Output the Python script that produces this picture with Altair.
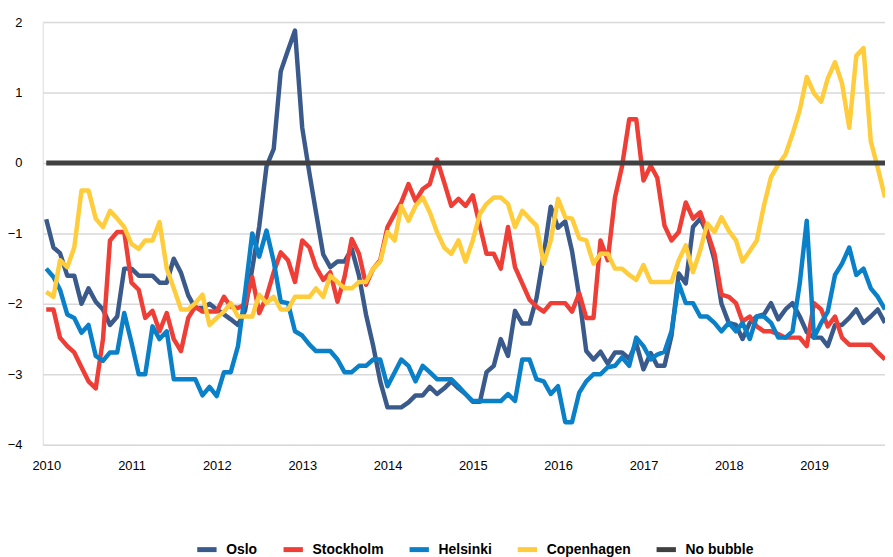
import altair as alt
import pandas as pd

# Monthly series, Jan 2010 .. Nov 2019 (119 months)
start_month = "2010-01-01"
n_months = 119

oslo = [-0.8, -1.2, -1.28, -1.6, -1.6, -2.0, -1.78, -1.97, -2.08, -2.3, -2.18, -1.5,
        -1.5, -1.6, -1.6, -1.6, -1.7, -1.7, -1.36, -1.56, -1.88, -2.06, -2.06, -2.0,
        -2.08, -2.15, -2.22, -2.3, -2.1, -1.5, -0.9, -0.05, 0.2, 1.3, 1.6, 1.88,
        0.5, -0.15, -0.7, -1.3, -1.48, -1.4, -1.4, -1.22, -1.6, -2.15, -2.6, -3.1,
        -3.47, -3.47, -3.47, -3.4, -3.3, -3.3, -3.18, -3.28, -3.2, -3.1, -3.2, -3.28,
        -3.39, -3.39, -2.97, -2.88, -2.5, -2.74, -2.1, -2.28, -2.28, -1.92, -1.3, -0.62,
        -0.92, -0.83, -1.25, -1.9, -2.67, -2.79, -2.68, -2.85, -2.69, -2.69, -2.78, -2.56,
        -2.93, -2.7, -2.88, -2.88, -2.45, -1.57, -1.71, -0.91, -0.79, -1.0, -1.38, -2.0,
        -2.27, -2.3, -2.5, -2.27, -2.18, -2.15, -1.99, -2.22, -2.08, -1.99, -2.18, -2.4,
        -2.48, -2.48, -2.6, -2.3, -2.3, -2.2, -2.08, -2.27, -2.18, -2.08, -2.27]

stockholm = [-2.08, -2.08, -2.48, -2.6, -2.69, -2.9, -3.1, -3.2, -2.5, -1.1, -0.98, -0.98,
             -1.7, -1.8, -2.2, -2.1, -2.39, -2.13, -2.5, -2.67, -2.2, -2.04, -2.11, -2.11,
             -2.11, -1.9, -2.04, -2.06, -2.01, -1.62, -2.13, -1.9, -1.55, -1.27, -1.38, -1.69,
             -1.1, -1.2, -1.48, -1.66, -1.55, -1.97, -1.62, -1.08, -1.29, -1.73, -1.5, -1.38,
             -0.91, -0.72, -0.56, -0.3, -0.54, -0.37, -0.3, 0.05, -0.28, -0.61, -0.51, -0.61,
             -0.46, -0.9, -1.29, -1.29, -1.5, -0.91, -1.48, -1.71, -1.94, -2.04, -2.11, -1.99,
             -1.99, -1.99, -2.11, -1.85, -2.2, -2.2, -1.1, -1.38, -0.49, -0.05, 0.62, 0.62,
             -0.25, -0.04, -0.21, -0.89, -1.1, -0.98, -0.56, -0.79, -0.7, -0.98, -1.29, -1.87,
             -1.9, -1.99, -2.25, -2.18, -2.32, -2.39, -2.39, -2.43, -2.48, -2.48, -2.48, -2.6,
             -1.99, -2.08, -2.32, -2.18, -2.48, -2.58, -2.58, -2.58, -2.58, -2.69, -2.79]

helsinki = [-1.5, -1.62, -1.8, -2.15, -2.2, -2.41, -2.3, -2.74, -2.81, -2.69, -2.69, -2.13,
            -2.55, -3.0, -3.0, -2.32, -2.5, -2.39, -3.07, -3.07, -3.07, -3.07, -3.3, -3.18,
            -3.31, -2.97, -2.97, -2.6, -1.85, -1.0, -1.33, -0.96, -1.4, -1.97, -1.99, -2.39,
            -2.45, -2.58, -2.67, -2.67, -2.67, -2.79, -2.97, -2.97, -2.88, -2.88, -2.79, -2.79,
            -3.17, -2.97, -2.79, -2.88, -3.1, -2.88, -2.97, -3.07, -3.07, -3.07, -3.17, -3.28,
            -3.38, -3.38, -3.38, -3.38, -3.38, -3.28, -3.38, -2.79, -2.79, -3.07, -3.1, -3.28,
            -3.17, -3.68, -3.68, -3.26, -3.1, -3.0, -3.0, -2.9, -2.88, -2.76, -2.88, -2.48,
            -2.6, -2.79, -2.72, -2.68, -2.39, -1.71, -1.99, -1.99, -2.18, -2.18, -2.27, -2.39,
            -2.27, -2.39, -2.27, -2.5, -2.18, -2.18, -2.27, -2.48, -2.48, -2.39, -1.71, -0.82,
            -2.48, -2.27, -2.11, -1.59, -1.43, -1.2, -1.59, -1.5, -1.78, -1.9, -2.08]

copenhagen = [-1.83, -1.9, -1.38, -1.48, -1.2, -0.39, -0.39, -0.79, -0.91, -0.68, -0.79, -0.91,
              -1.15, -1.22, -1.1, -1.1, -0.84, -1.5, -1.78, -2.08, -2.08, -1.99, -1.87, -2.3,
              -2.2, -2.11, -1.99, -2.18, -2.18, -2.18, -1.87, -1.99, -1.9, -2.08, -2.08, -1.9,
              -1.9, -1.9, -1.78, -1.9, -1.6, -1.69, -1.78, -1.78, -1.69, -1.69, -1.5, -1.4,
              -0.98, -1.1, -0.61, -0.82, -0.61, -0.49, -0.7, -0.98, -1.2, -1.29, -1.1, -1.4,
              -1.1, -0.72, -0.58, -0.49, -0.49, -0.58, -0.91, -0.68, -0.79, -0.89, -1.43, -1.1,
              -0.51, -0.77, -0.79, -1.07, -1.1, -1.43, -1.29, -1.29, -1.5, -1.5, -1.59, -1.66,
              -1.45, -1.69, -1.69, -1.69, -1.69, -1.38, -1.17, -1.55, -1.24, -0.86, -0.98, -0.77,
              -0.96, -1.1, -1.4, -1.25, -1.1, -0.6, -0.2, -0.02, 0.12, 0.41, 0.75, 1.22,
              0.99, 0.87, 1.2, 1.43, 1.13, 0.5, 1.52, 1.63, 0.31, -0.07, -0.49]

no_bubble = [0.0] * n_months

series_names = ["Oslo", "Stockholm", "Helsinki", "Copenhagen", "No bubble"]
series_colors = ["#3A5A8C", "#EE3E36", "#0A80C8", "#FFCC3C", "#404040"]
series_widths = [4.5, 4.5, 4.5, 4.5, 5]
year_ticks = list(range(2010, 2020))
y_ticks = [-4, -3, -2, -1, 0, 1, 2]

dates = pd.date_range(start_month, periods=n_months, freq="MS")
all_values = [oslo, stockholm, helsinki, copenhagen, no_bubble]
rows = []
for name, vals in zip(series_names, all_values):
    for d, v in zip(dates, vals):
        rows.append({"date": d.strftime("%Y-%m-%dT00:00:00"), "value": v, "series": name})
df = pd.DataFrame(rows)

color_scale = alt.Scale(domain=series_names, range=series_colors)

x_enc = alt.X(
    "date:T",
    title=None,
    scale=alt.Scale(domain=[alt.DateTime(year=2009, month=12, date=17),
                            alt.DateTime(year=2019, month=11, date=1)]),
    axis=alt.Axis(
        values=[alt.DateTime(year=y, month=1, date=1) for y in year_ticks],
        format="%Y",
        grid=False,
        domain=False,
        ticks=False,
        tickSize=0,
        labelPadding=15,
        labelFontSize=13,
        labelFont="Liberation Sans",
        labelColor="#000000",
        labelAlign="center",
    ),
)
y_enc = alt.Y(
    "value:Q",
    title=None,
    scale=alt.Scale(domain=[-4, 2], nice=False, zero=False),
    axis=alt.Axis(
        values=y_ticks,
        format="d",
        grid=True,
        gridColor="#D9D9D9",
        gridWidth=1.5,
        domain=False,
        ticks=False,
        tickSize=0,
        labelPadding=21,
        labelFontSize=13,
        labelFont="Liberation Sans",
        labelColor="#000000",
    ),
)

legend = alt.Legend(
    orient="none",
    direction="horizontal",
    legendX=153,
    legendY=519,
    symbolType="stroke",
    symbolSize=380,
    symbolStrokeWidth=5,
    labelFontSize=14,
    labelFontWeight="bold",
    labelFont="Liberation Sans",
    labelColor="#000000",
    labelOffset=7,
    columnPadding=15,
    padding=0,
)

layers = []
for name, w in zip(series_names, series_widths):
    layer = (
        alt.Chart(df)
        .transform_filter(alt.datum.series == name)
        .mark_line(strokeWidth=w, strokeJoin="round", clip=True)
        .encode(
            x=x_enc,
            y=y_enc,
            color=alt.Color("series:N", scale=color_scale, title=None, legend=legend),
        )
    )
    layers.append(layer)

chart = (
    alt.layer(*layers)
    .properties(
        width=849,
        height=426,
        padding={"left": 35, "top": 12, "right": 0, "bottom": 111},
        autosize=alt.AutoSizeParams(type="none"),
    )
    .configure_view(stroke=None)
    .configure(background="white")
)

chart.save("out.html", embed_options={"renderer": "svg", "actions": False})
